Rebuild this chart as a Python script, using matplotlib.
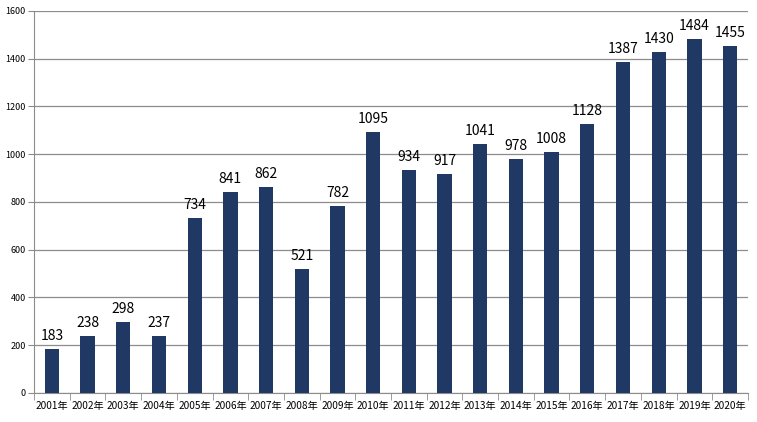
import matplotlib.pyplot as plt
import numpy as np

plt.rcParams['font.family'] = ['Noto Sans CJK SC', 'DejaVu Sans']

years = [f"{y}年" for y in range(2001, 2021)]
values = [183, 238, 298, 237, 734, 841, 862, 521, 782, 1095,
          934, 917, 1041, 978, 1008, 1128, 1387, 1430, 1484, 1455]

fig = plt.figure(figsize=(7.57, 4.22), dpi=100)
ax = fig.add_axes([0.045, 0.069, 0.943, 0.905])

x = np.arange(len(years))
bars = ax.bar(x, values, width=0.4, color='#1f3864', zorder=3)
for xi, v in zip(x, values):
    ax.text(xi, v + 25, str(v), ha='center', va='bottom', fontsize=10, color='black')

ax.set_xlim(-0.5, len(years) - 0.5)
ax.set_ylim(0, 1600)
ax.set_yticks(range(0, 1601, 200))
ax.yaxis.grid(True, color='#8c8c8c', linewidth=0.9, zorder=0)

ax.set_xticks(x)
ax.set_xticklabels(years, fontsize=7.3)
ax.set_xticks(np.arange(-0.5, len(years)), minor=True)
ax.tick_params(axis='x', which='major', length=0, pad=6)
ax.tick_params(axis='x', which='minor', length=5, color='#8c8c8c')
ax.tick_params(axis='y', labelsize=6.5, length=4, color='#8c8c8c', pad=2)

for s in ['top', 'right']:
    ax.spines[s].set_visible(False)
for s in ['left', 'bottom']:
    ax.spines[s].set_color('#8c8c8c')

fig.savefig('out.png', dpi=100)
